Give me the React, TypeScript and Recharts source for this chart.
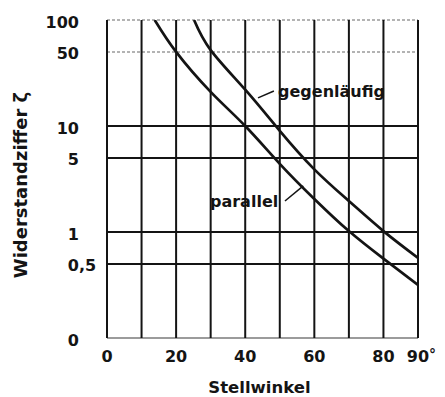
import React from "react";
import { LineChart, Line, XAxis, YAxis, ReferenceLine, ReferenceDot, Label } from "recharts";

// Grid / tick values
const xTicks = [0, 10, 20, 30, 40, 50, 60, 70, 80, 90];
const xLabels = ["0", "", "20", "", "40", "", "60", "", "80", "90"];
const yTicks = [0.1, 0.5, 1, 5, 10, 50, 100];
const yLabels = ["0", "0,5", "1", "5", "10", "50", "100"];
const solidY = [0.5, 1, 5, 10];
const dottedY = [50, 100];

// Series: parallel
const parallelAngle = [13.8, 20, 30, 40, 50, 60, 70, 80, 90];
const parallelValue = [100, 50, 21, 10, 4.4, 2.05, 1.02, 0.56, 0.316];
// Series: gegenläufig
const gegenAngle = [25.2, 30, 40, 50, 60, 70, 80, 90];
const gegenValue = [100, 52, 22, 9.0, 3.9, 1.96, 1.02, 0.57];

const parallelData = parallelAngle.map((a, i) => ({ a, v: parallelValue[i] }));
const gegenData = gegenAngle.map((a, i) => ({ a, v: gegenValue[i] }));

const FONT = "'DejaVu Sans', sans-serif";
const INK = "#141414";

const XTick = (props: any) => {
  const { x, y, payload } = props;
  const idx = xTicks.indexOf(payload.value);
  const lab = xLabels[idx] ?? "";
  if (!lab) return null;
  return (
    <g>
      <text x={x} y={y + 18} textAnchor="middle" dominantBaseline="central" fontFamily={FONT} fontWeight="bold" fontSize={16} fill={INK}>
        {lab}
      </text>
      {payload.value === 90 ? (
        <text x={x + 11} y={y + 16} textAnchor="start" dominantBaseline="central" fontFamily={FONT} fontWeight="bold" fontSize={14} fill={INK}>
          °
        </text>
      ) : null}
    </g>
  );
};

const YTick = (props: any) => {
  const { x, y, payload } = props;
  const idx = yTicks.indexOf(payload.value);
  const lab = yLabels[idx] ?? "";
  const parts = lab.split(",");
  const tx = x - 28;
  return (
    <g>
      <text x={tx} y={y + 2} textAnchor="end" dominantBaseline="central" fontFamily={FONT} fontWeight="bold" fontSize={16} fill={INK}>
        {parts[0]}
      </text>
      {parts.length > 1 ? (
        <text x={tx} y={y + 2} textAnchor="start" dominantBaseline="central" fontFamily={FONT} fontWeight="bold" fontSize={16} fill={INK}>
          {"," + parts[1]}
        </text>
      ) : null}
    </g>
  );
};

const YTitle = (props: any) => {
  const vb = props.viewBox || { x: 0, y: 0, width: 0, height: 0 };
  const cx = vb.x + 12;
  const cy = vb.y + vb.height / 2 + 6;
  return (
    <text x={cx} y={cy} transform={`rotate(-90 ${cx} ${cy})`} textAnchor="middle" dominantBaseline="central" fontFamily={FONT} fontWeight="bold" fontSize={18} fill={INK}>
      Widerstandziffer ζ
    </text>
  );
};

const XTitle = (props: any) => {
  const vb = props.viewBox || { x: 0, y: 0, width: 0, height: 0 };
  const cx = vb.x + vb.width / 2 - 3;
  const cy = vb.y + 49;
  return (
    <text x={cx} y={cy} textAnchor="middle" dominantBaseline="central" fontFamily={FONT} fontWeight="bold" fontSize={16.5} fill={INK}>
      Stellwinkel
    </text>
  );
};

const makeTextShape = (txt: string) => (props: any) => (
  <text x={props.cx} y={props.cy} textAnchor="start" dominantBaseline="central" fontFamily={FONT} fontWeight="bold" fontSize={16} fill={INK}>
    {txt}
  </text>
);

export default function App() {
  return (
    <div style={{ width: 437, height: 389 }}>
      <LineChart width={437} height={389} margin={{ top: 12, right: 27, bottom: 0, left: 0 }}>
        <XAxis
          type="number"
          dataKey="a"
          domain={[0, 90]}
          ticks={xTicks}
          interval={0}
          axisLine={false}
          tickLine={false}
          tickSize={0}
          tickMargin={0}
          height={59}
          tick={<XTick />}
          allowDataOverflow
        >
          <Label content={<XTitle />} />
        </XAxis>
        <YAxis
          type="number"
          dataKey="v"
          scale="log"
          domain={[0.1, 100]}
          ticks={yTicks}
          interval={0}
          axisLine={false}
          tickLine={false}
          tickSize={0}
          tickMargin={0}
          width={99}
          tick={<YTick />}
          allowDataOverflow
        >
          <Label content={<YTitle />} />
        </YAxis>

        {dottedY.map((v) => (
          <ReferenceLine key={"d" + v} y={v} stroke="#9a9a9a" strokeWidth={1.5} strokeDasharray="3 2" ifOverflow="visible" />
        ))}
        <ReferenceLine y={0.1} stroke="#7a7a7a" strokeWidth={1.5} ifOverflow="visible" />
        {solidY.map((v) => (
          <ReferenceLine key={"s" + v} y={v} stroke={INK} strokeWidth={2} ifOverflow="visible" />
        ))}
        {xTicks.map((v) => (
          <ReferenceLine key={"x" + v} x={v} stroke={INK} strokeWidth={2} ifOverflow="visible" />
        ))}

        <ReferenceLine segment={[{ x: 43.7, y: 18.4 }, { x: 48.3, y: 21.4 }]} stroke={INK} strokeWidth={1.5} ifOverflow="visible" />
        <ReferenceLine segment={[{ x: 51.5, y: 1.96 }, { x: 56.8, y: 2.72 }]} stroke={INK} strokeWidth={1.5} ifOverflow="visible" />

        <Line data={parallelData} dataKey="v" type="natural" stroke={INK} strokeWidth={2.7} dot={false} isAnimationActive={false} />
        <Line data={gegenData} dataKey="v" type="natural" stroke={INK} strokeWidth={2.7} dot={false} isAnimationActive={false} />

        <ReferenceDot x={49.5} y={21} r={0} shape={makeTextShape("gegenläufig")} ifOverflow="visible" />
        <ReferenceDot x={29.8} y={1.92} r={0} shape={makeTextShape("parallel")} ifOverflow="visible" />
      </LineChart>
    </div>
  );
}
